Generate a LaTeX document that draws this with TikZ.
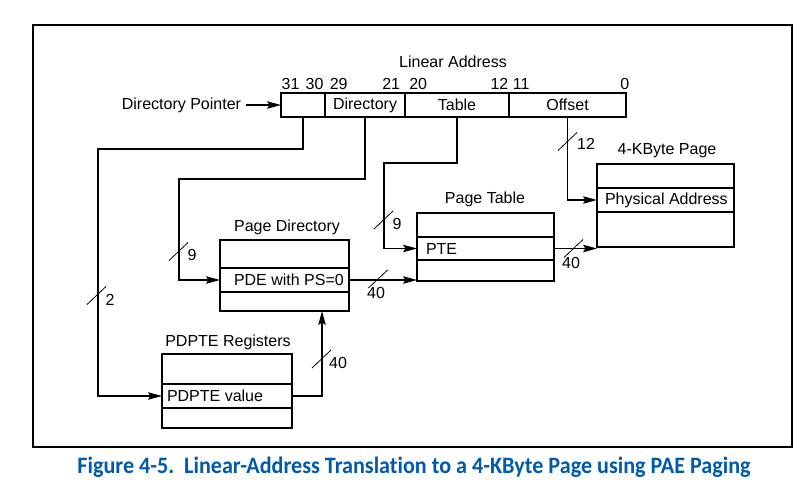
\documentclass[tikz,border=0pt]{standalone}
\usepackage{fontspec}
\usepackage{graphicx}
\setmainfont{Liberation Sans}
\newfontfamily\capfont[Ligatures=CommonOff]{Carlito}
\usetikzlibrary{arrows.meta,calc}
\definecolor{capblue}{RGB}{0,90,170}
\begin{document}
\begin{tikzpicture}[x=1pt,y=-1pt,
  every node/.style={font=\fontsize{16}{19}\selectfont, inner sep=0pt, outer sep=0pt},
  cell/.style={draw, line width=1.1pt, anchor=north west},
  arr/.style={line width=1.1pt, -{Stealth[length=14pt,width=7.5pt,inset=2.5pt]}},
  conn/.style={line width=1.1pt},
  slash/.style={line width=0.8pt},
  rowtext/.style={anchor=west},
  title/.style={anchor=center}]
\useasboundingbox (0,0) rectangle (810,490);
% frame
\draw[line width=1.2pt] (33,25) rectangle (792,447);

% linear address
\node[title] (latitle) at (453,61.5) {Linear Address};
\node (b31) at (290.6,83.5) {31};
\node (b30) at (314.5,83.5) {30};
\node (b29) at (338.7,83.5) {29};
\node (b21) at (391.2,83.5) {21};
\node (b20) at (418.2,83.5) {20};
\node (b12) at (499.4,83.5) {12};
\node (b11) at (521.2,83.5) {11};
\node (b0) at (624.9,83.5) {0};
\node[cell, minimum width=44pt, minimum height=24pt] (la0) at (281,93) {};
\node[cell, minimum width=80pt, minimum height=24pt] (ladir) at (325,93) {Directory};
\node[cell, minimum width=104pt, minimum height=24pt] (latab) at (405,93) {Table};
\node[cell, minimum width=117pt, minimum height=24pt] (laoff) at (509,93) {Offset};
\node[anchor=east] (dp) at (241,105) {Directory Pointer};
\draw[arr] ([xshift=5pt]dp.east) -- (la0.west);

% page directory
\node[title] (pdtitle) at (287,227) {Page Directory};
\node[cell, minimum width=129pt, minimum height=28pt] (pd1) at (220,240) {};
\node[cell, minimum width=129pt, minimum height=24pt] (pd2) at (220,268) {};
\node[cell, minimum width=129pt, minimum height=19pt] (pd3) at (220,292) {};
\node[rowtext] (pdetext) at (234,280) {PDE with PS=0};

% page table
\node[title] (pttitle) at (485,199) {Page Table};
\node[cell, minimum width=137pt, minimum height=24pt] (pt1) at (417,213) {};
\node[cell, minimum width=137pt, minimum height=23pt] (pt2) at (417,237) {};
\node[cell, minimum width=137pt, minimum height=21pt] (pt3) at (417,260) {};
\node[rowtext] (ptetext) at (426,248.5) {PTE};

% 4-KByte page
\node[title] (kbtitle) at (667,151) {4-KByte Page};
\node[cell, minimum width=137pt, minimum height=24pt] (kb1) at (597,164) {};
\node[cell, minimum width=137pt, minimum height=24pt] (kb2) at (597,188) {};
\node[cell, minimum width=137pt, minimum height=35pt] (kb3) at (597,212) {};
\node[rowtext] (patext) at (605,200) {Physical Address};

% PDPTE registers
\node[title] (pptitle) at (228,342) {PDPTE Registers};
\node[cell, minimum width=130pt, minimum height=30pt] (pp1) at (162,354) {};
\node[cell, minimum width=130pt, minimum height=24pt] (pp2) at (162,384) {};
\node[cell, minimum width=130pt, minimum height=20pt] (pp3) at (162,408) {};
\node[rowtext] (pptext) at (167,396) {PDPTE value};

% connectors
\draw[arr] (la0.south) |- (98,149) |- (pp2.west);
\draw[arr] (ladir.south) |- (179,179) |- (pd2.west);
\draw[arr] (latab.south) |- (384,163) |- (pt2.west);
\draw[arr] (laoff.south) |- (kb2.west);
\draw[arr] (pd2.east) -- (pd2.east -| pt3.west);
\draw[arr] (pt2.east) -- (pt2.east -| kb3.west);
\draw[arr] (pp2.east) -| ($(pd3.south west)+(102,0)$);

% width slashes and labels
\draw[slash] (96.5,295.5) +(-9.5,9) -- +(9.5,-9);
\node (l2) at (110,300) {2};
\draw[slash] (178.5,251.5) +(-9.5,9) -- +(9.5,-9);
\node (l9a) at (192,255) {9};
\draw[slash] (383.5,220) +(-9.5,9) -- +(9.5,-9);
\node (l9b) at (397,224) {9};
\draw[slash] (567.5,141.5) +(-9.5,9) -- +(9.5,-9);
\node (l12) at (586,144) {12};
\draw[slash] (378,279) +(-9.5,9) -- +(9.5,-9);
\node (l40a) at (376,293) {40};
\draw[slash] (573.5,248.5) +(-9.5,9) -- +(9.5,-9);
\node (l40b) at (571,263) {40};
\draw[slash] (321.5,359) +(-9.5,9) -- +(9.5,-9);
\node (l40c) at (338,363) {40};

% caption
\node[anchor=base, text=capblue] (cap) at (414,473)
  {\resizebox{673pt}{16.5pt}{\capfont\bfseries Figure 4-5.\hspace{0.45em}Linear-Address Translation to a 4-KByte Page using PAE Paging}};
\end{tikzpicture}
\end{document}
